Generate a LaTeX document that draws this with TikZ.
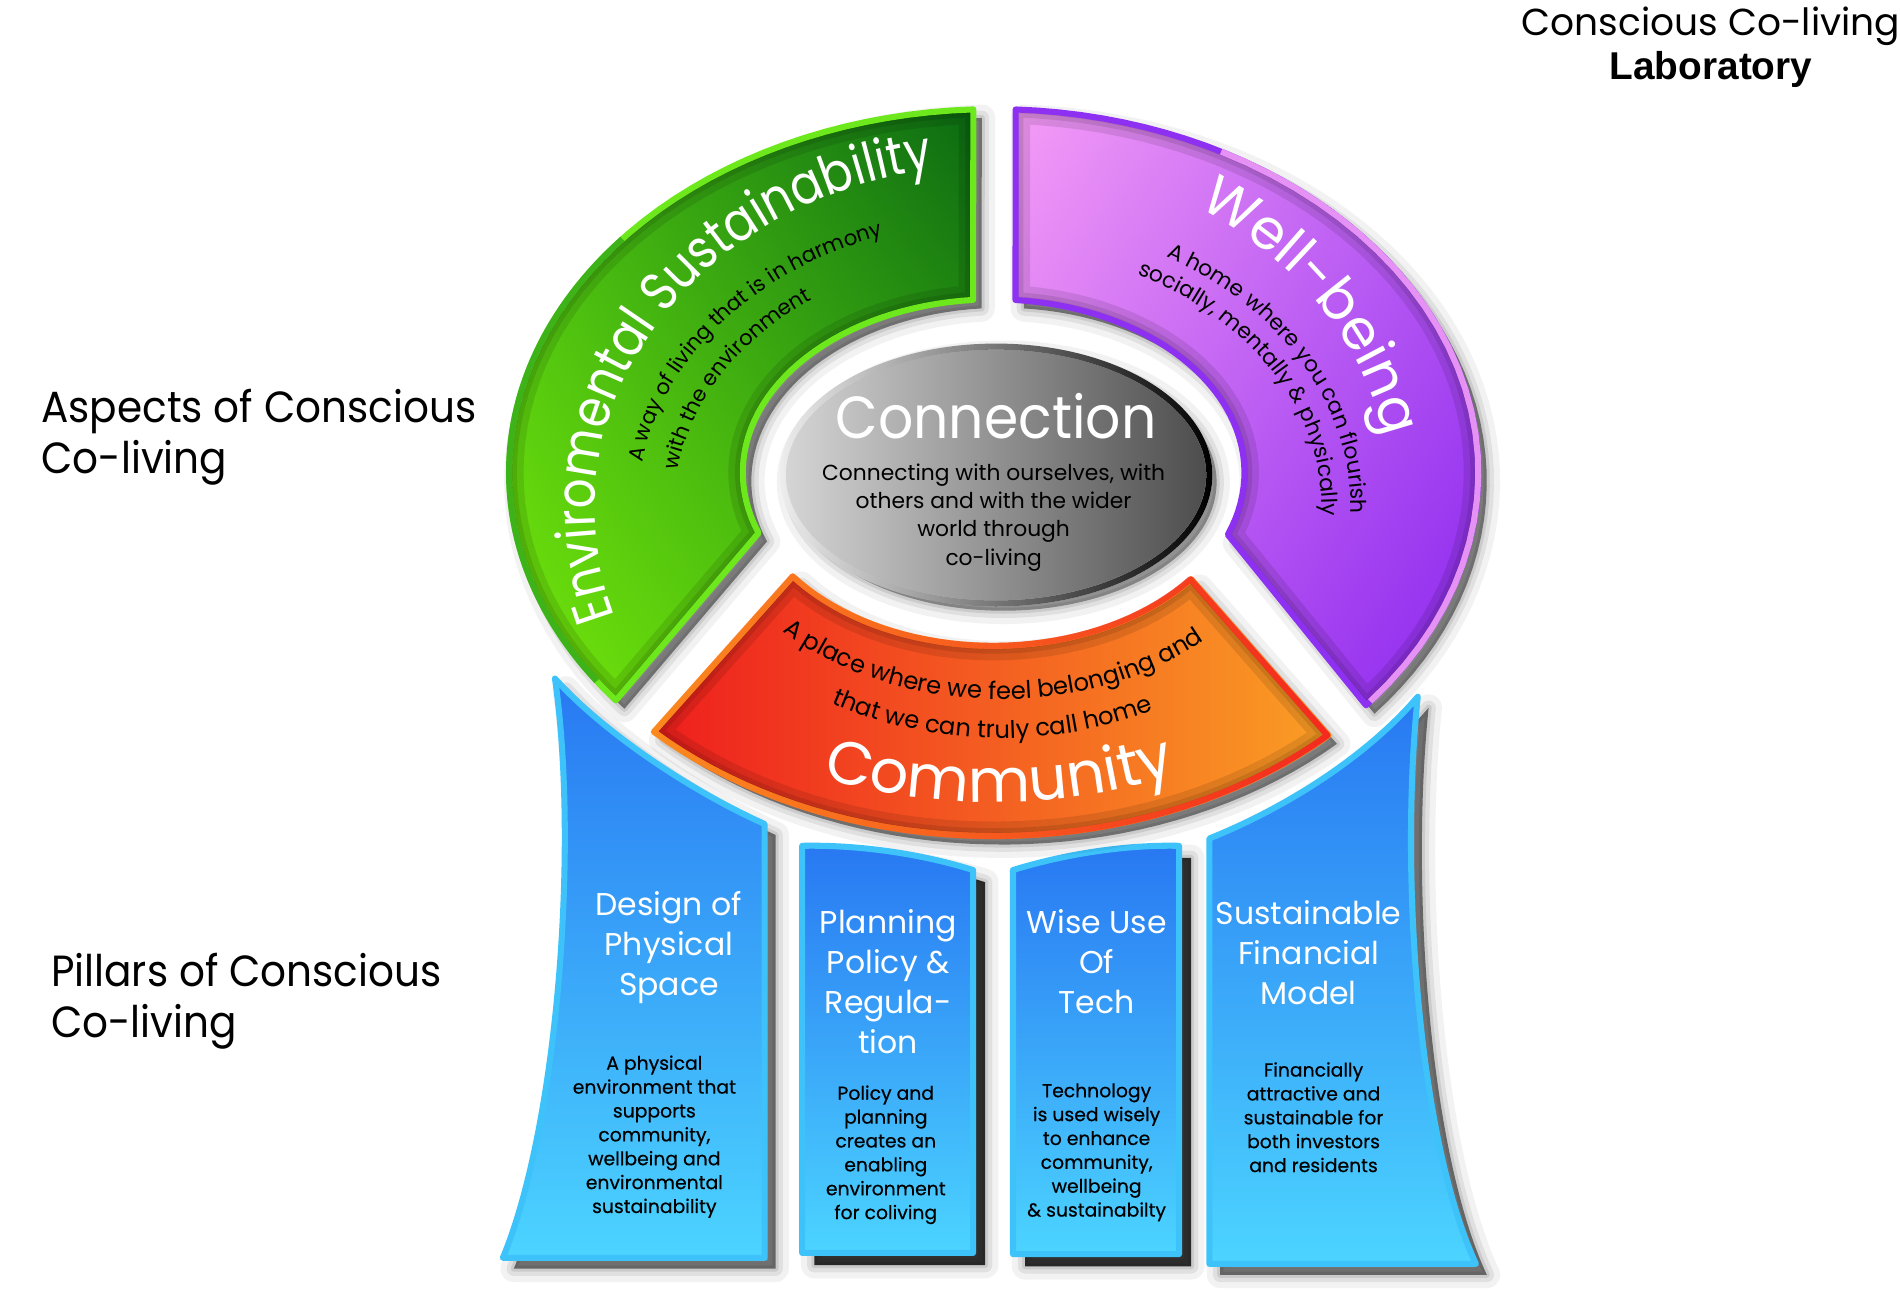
\documentclass[tikz,border=0pt]{standalone}
\usepackage{fontspec}
\setmainfont{Poppins}
\newfontfamily\descfont{Poppins}[FakeBold=0.4]
\newfontfamily\ringfont{Poppins}[FakeStretch=0.86]
\newfontfamily\narrowfont{Poppins}[FakeStretch=0.93]
\newfontfamily\labfont{Liberation Sans}
\usetikzlibrary{decorations.text,fadings,shadings}

% palette
\definecolor{grnUL}{HTML}{46BC12}
\definecolor{grnLL}{HTML}{74E60A}
\definecolor{grnUR}{HTML}{0B6A12}
\definecolor{grnLR}{HTML}{44B810}
\definecolor{grnLine}{HTML}{6CE81C}
\definecolor{grnEdge}{HTML}{1E8E18}
\definecolor{prpUL}{HTML}{F59CF6}
\definecolor{prpUR}{HTML}{B458F4}
\definecolor{prpLL}{HTML}{C462F4}
\definecolor{prpLR}{HTML}{8A26EE}
\definecolor{prpLine}{HTML}{8E30F2}
\definecolor{prpEdge}{HTML}{E592F4}
\definecolor{comL}{HTML}{EE1E1E}
\definecolor{comR}{HTML}{FA9E24}
\definecolor{comOr}{HTML}{FB8A1E}
\definecolor{comRd}{HTML}{F42A1E}
\definecolor{conL}{HTML}{D6D6D6}
\definecolor{conR}{HTML}{4C4C4C}
\definecolor{conRim}{HTML}{EEEEEE}
\definecolor{bluT}{HTML}{2878F2}
\definecolor{bluB}{HTML}{4CD4FF}
\definecolor{bluLine}{HTML}{3EC2FA}

\tikzfading[name=fadeleft, left color=transparent!100, right color=transparent!0]

% ring segments (centre 820,390; outer 400x300, inner 207x143)
\def\greenpath{plot[domain=92.4:218.8,samples=50] ({820+400*cos(\x)},{390-300*sin(\x)}) -- plot[domain=200.4:94.7,samples=40] ({820+207*cos(\x)},{390-143*sin(\x)}) -- cycle}
\def\purplepath{plot[domain=87.4:-39.8,samples=50] ({820+400*cos(\x)},{390-300*sin(\x)}) -- plot[domain=-21:85,samples=40] ({820+207*cos(\x)},{390-143*sin(\x)}) -- cycle}
\def\commpath{plot[domain=225.5:313.7,samples=40] ({820+400*cos(\x)},{390-300*sin(\x)}) -- plot[domain=322:216.8,samples=40] ({820+207*cos(\x)},{390-143*sin(\x)}) -- cycle}
\def\conpath{(822,392) ellipse [x radius=176pt, y radius=106pt]}
% pillars
\def\pilA{(458,560) .. controls (492,598) and (560,648) .. (631,680) -- (631,1038) -- (415,1038) .. controls (460,930) and (478,700) .. (458,560) -- cycle}
\def\pilB{(662,698) .. controls (710,697) and (762,705) .. (803,718) -- (803,1034) -- (662,1034) -- cycle}
\def\pilC{(836,718) .. controls (878,705) and (928,697) .. (973,698) -- (973,1035) -- (836,1035) -- cycle}
\def\pilD{(998,692) .. controls (1065,665) and (1130,622) .. (1170,575) .. controls (1155,720) and (1170,940) .. (1218,1043) -- (998,1043) -- cycle}

% soft drop shadow: #1 path, #2 offset, #3 core opacity
\newcommand\softshadow[3]{%
  \begin{scope}[shift={(#2,#2)}]
    \draw[black,opacity=.05,line width=22pt,line join=round] #1;
    \draw[black,opacity=.07,line width=12pt,line join=round] #1;
    \draw[black,opacity=.09,line width=5pt,line join=round] #1;
    \fill[black,opacity=#3] #1;
  \end{scope}}
% darkened rim inside a shape
\newcommand\innerdark[1]{%
  \begin{scope}
    \clip #1;
    \draw[black,opacity=.10,line width=24pt] #1;
    \draw[black,opacity=.10,line width=13pt] #1;
    \draw[black,opacity=.08,line width=6pt] #1;
  \end{scope}}

\tikzset{
  every node/.style={inner sep=0pt},
  pillar/.style={top color=bluT, bottom color=bluB},
  pillarline/.style={draw=bluLine, line width=5pt, line join=round},
  ptitle/.style={text=white, align=center, font=\fontsize{26}{33}\selectfont},
  pdesc/.style={text=black, align=center, font=\descfont\fontsize{15.5}{19.7}\selectfont},
  sidelabel/.style={anchor=west, align=left, font=\narrowfont\fontsize{36}{42}\selectfont},
}

\begin{document}
\begin{tikzpicture}[x=1pt,y=-1pt]
\useasboundingbox (0,0) rectangle (1568,1085);
\fill[white] (0,0) rectangle (1568,1085);

% ---------- pillars ----------
\softshadow{\pilA}{9}{.5}
\shade[pillar] \pilA; \draw[pillarline] \pilA;
\softshadow{\pilB}{10}{.8}
\shade[pillar] \pilB; \draw[pillarline] \pilB;
\softshadow{\pilC}{10}{.8}
\shade[pillar] \pilC; \draw[pillarline] \pilC;
\softshadow{\pilD}{9}{.5}
\shade[pillar] \pilD; \draw[pillarline] \pilD;

% ---------- ring ----------
\softshadow{\greenpath}{7}{.45}
\shade[upper left=grnUL, lower left=grnLL, upper right=grnUR, lower right=grnLR] \greenpath;
\innerdark{\greenpath}
\draw[grnLine, line width=5pt, line join=round] \greenpath;
\draw[grnEdge, line width=5pt, opacity=.6] plot[domain=140:215,samples=30] ({820+400*cos(\x)},{390-300*sin(\x)});

\softshadow{\purplepath}{7}{.45}
\shade[upper left=prpUL, lower left=prpLL, upper right=prpUR, lower right=prpLR] \purplepath;
\innerdark{\purplepath}
\draw[prpLine, line width=5pt, line join=round] \purplepath;
\draw[prpEdge, line width=5pt] plot[domain=62:-39,samples=30] ({820+400*cos(\x)},{390-300*sin(\x)});

\softshadow{\commpath}{7}{.45}
\shade[left color=comL, right color=comR] \commpath;
\innerdark{\commpath}
\draw[comOr, line width=5pt, line join=round] \commpath;
\draw[comRd, line width=5pt, line join=round, path fading=fadeleft] \commpath;

% ---------- centre ----------
\softshadow{\conpath}{6}{.35}
\shade[left color=conL, right color=conR] \conpath;
\draw[conRim, line width=5pt] \conpath;
\draw[black, line width=5pt, path fading=fadeleft] \conpath;

\node[anchor=base, text=white, font=\narrowfont\fontsize{49}{49}\selectfont] (contitle) at (822,362) {Connection};
\node[align=center, font=\fontsize{18}{23.3}\selectfont] (condesc) at (820,427)
  {Connecting with ourselves, with\\others and with the wider\\world through\\co-living};

% ---------- curved ring texts ----------
\path[decoration={text along path, text align=center,
  text={|\ringfont\fontsize{45}{45}\selectfont\color{white}|Enviromental Sustainability}}, decorate]
  plot[domain=0:140,samples=70] ({820+329*cos(219.5-\x)},{420-284*sin(219.5-\x)});
\path[decoration={text along path, text align=center,
  text={|\fontsize{17.5}{17.5}\selectfont|A way of living that is in harmony}}, decorate]
  plot[domain=0:140,samples=70] ({820+294*cos(213-\x)},{420-237*sin(213-\x)});
\path[decoration={text along path, text align=center,
  text={|\fontsize{17.5}{17.5}\selectfont|with the environment}}, decorate]
  plot[domain=0:140,samples=70] ({820+264*cos(222-\x)},{420-210*sin(222-\x)});

\path[decoration={text along path, text align=center,
  text={|\fontsize{46}{46}\selectfont\color{white}|Well-being}}, decorate]
  plot[domain=0:140,samples=70] ({820+330*cos(103-\x)},{420-290*sin(103-\x)});
\path[decoration={text along path, text align=center,
  text={|\fontsize{18}{18}\selectfont|A home where you can flourish}}, decorate]
  plot[domain=0:140,samples=70] ({820+295*cos(97-\x)},{420-238*sin(97-\x)});
\path[decoration={text along path, text align=center,
  text={|\fontsize{18}{18}\selectfont|socially, mentally {\&} physically}}, decorate]
  plot[domain=0:140,samples=70] ({820+271*cos(98-\x)},{420-215*sin(98-\x)});

\path[rotate around={-2.5:(820,390)}, decoration={text along path, text align=center,
  text={|\fontsize{20}{20}\selectfont|A place where we feel belonging and}}, decorate]
  plot[domain=0:140,samples=70] ({820+250*cos(202+\x)},{392-185*sin(202+\x)});
\path[rotate around={-2.5:(820,390)}, decoration={text along path, text align=center,
  text={|\fontsize{20}{20}\selectfont|that we can truly call home}}, decorate]
  plot[domain=0:140,samples=70] ({820+280*cos(202+\x)},{392-217*sin(202+\x)});
\path[decoration={text along path, text align=center,
  text={|\fontsize{50}{50}\selectfont\color{white}|Community}}, decorate]
  plot[domain=0:140,samples=70] ({820+373*cos(201+\x)},{390-272*sin(201+\x)});

% ---------- pillar texts ----------
\node[ptitle] (pAt) at (552,782) {Design of\\Physical\\Space};
\node[pdesc]  (pAd) at (540,938) {A physical\\environment that\\supports\\community,\\wellbeing and\\environmental\\sustainability};
\node[ptitle] (pBt) at (733,810) {Planning\\Policy \&\\Regula-\\tion};
\node[pdesc]  (pBd) at (731,953) {Policy and\\planning\\creates an\\enabling\\environment\\for coliving};
\node[ptitle] (pCt) at (905,794) {Wise Use\\Of\\Tech};
\node[pdesc]  (pCd) at (905,951) {Technology\\is used wisely\\to enhance\\community,\\wellbeing\\\& sustainabilty};
\node[ptitle] (pDt) at (1080,786) {Sustainable\\Financial\\Model};
\node[pdesc]  (pDd) at (1084,922) {Financially\\attractive and\\sustainable for\\both investors\\and residents};

% ---------- side labels ----------
\node[sidelabel] (aspects) at (34,361) {Aspects of Conscious\\Co-living};
\node[sidelabel] (pillars) at (42,826) {Pillars of Conscious\\Co-living};
\node[anchor=base, font=\fontsize{31}{31}\selectfont] (labA) at (1412,29) {Conscious Co-living};
\node[anchor=base, font=\labfont\bfseries\fontsize{32}{32}\selectfont] (labB) at (1412,66) {Laboratory};
\end{tikzpicture}
\end{document}
